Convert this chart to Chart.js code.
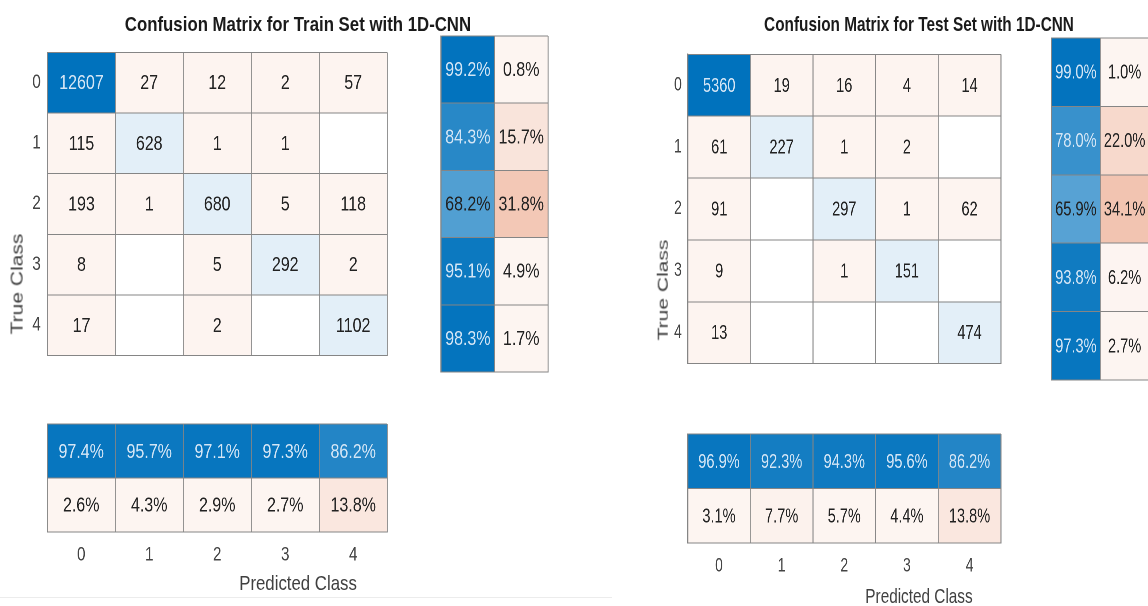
<!DOCTYPE html>
<html>
<head>
<meta charset="utf-8">
<title>Confusion matrices - 1D-CNN</title>
<script src="https://cdn.jsdelivr.net/npm/chart.js@4.4.1/dist/chart.umd.min.js"></script>
<style>
  html, body { margin: 0; padding: 0; background: #ffffff; }
  body { width: 1148px; height: 606px; overflow: hidden; position: relative; }
  .stage { position: absolute; left: 0; top: 0; height: 606px; transform-origin: 0 0; }
  .blk { position: absolute; }
  .blk canvas { display: block; }
  .txt {
    position: absolute; white-space: nowrap; line-height: 1;
    font-family: 'Liberation Sans', Arial, sans-serif;
    transform: translate(-50%, -50%);
  }
  .title { font-weight: bold; font-size: 21px; color: #1a1a1a; }
  .axlab { font-size: 21px; color: #404040; }
  .vert { transform: translate(-50%, -50%) rotate(-90deg); }
  .shelf { position: absolute; left: 0; top: 597px; width: 612px; height: 1px; background: #ececec; }
</style>
</head>
<body>
<div class="shelf"></div>
<script>
// ---- class labels -------------------------------------------------------
const classLabels = ['0', '1', '2', '3', '4'];

// ---- training set -------------------------------------------------------
const trainCounts = [
  [12607, 27, 12, 2, 57],
  [115, 628, 1, 1, 0],
  [193, 1, 680, 5, 118],
  [8, 0, 5, 292, 2],
  [17, 0, 2, 0, 1102]
];
const trainRecall    = [99.2, 84.3, 68.2, 95.1, 98.3];
const trainMissRate  = [0.8, 15.7, 31.8, 4.9, 1.7];
const trainPrecision = [97.4, 95.7, 97.1, 97.3, 86.2];
const trainFalseDisc = [2.6, 4.3, 2.9, 2.7, 13.8];

// ---- test set -----------------------------------------------------------
const testCounts = [
  [5360, 19, 16, 4, 14],
  [61, 227, 1, 2, 0],
  [91, 0, 297, 1, 62],
  [9, 0, 1, 151, 0],
  [13, 0, 0, 0, 474]
];
const testRecall    = [99.0, 78.0, 65.9, 93.8, 97.3];
const testMissRate  = [1.0, 22.0, 34.1, 6.2, 2.7];
const testPrecision = [96.9, 92.3, 94.3, 95.6, 86.2];
const testFalseDisc = [3.1, 7.7, 5.7, 4.4, 13.8];

// ---- styling --------------------------------------------------------------
const BLUE = [0, 114, 189];
const ORANGE = [217, 83, 25];
const GRID = '#858585';
const INK_DARK = '#222222';
const INK_LIGHT = '#d3e5f5';
const FONT = "'Liberation Sans', Arial, sans-serif";

function mix(base, a) {
  const c = base.map(v => Math.round(255 - (255 - v) * a));
  return 'rgb(' + c.join(',') + ')';
}
const pct = v => v.toFixed(1) + '%';

// Count matrix: diagonal in blue scaled by count, off-diagonal in pale orange.
function countFill(counts) {
  const max = Math.max(...counts.flat());
  return counts.map((row, r) => row.map((v, c) => {
    if (v === 0) return '#ffffff';
    if (r === c) return mix(BLUE, Math.max(v / max, 0.11));
    return mix(ORANGE, 0.065);
  }));
}
function countInk(counts) {
  const max = Math.max(...counts.flat());
  return counts.map((row, r) => row.map((v, c) => (r === c && v / max >= 0.75) ? INK_LIGHT : INK_DARK));
}
function countText(counts) {
  return counts.map(row => row.map(v => v === 0 ? '' : String(v)));
}
const goodFill = v => mix(BLUE, v / 100);
const badFill = v => mix(ORANGE, Math.max(v / 100, 0.06));
const goodInk = v => v >= 75 ? INK_LIGHT : INK_DARK;

// Draws each cell's text at the centre of its bar element.
const cellTextPlugin = {
  id: 'cellText',
  afterDatasetsDraw(chart) {
    const ctx = chart.ctx;
    chart.data.datasets.forEach((ds, di) => {
      const meta = chart.getDatasetMeta(di);
      meta.data.forEach((bar, i) => {
        const t = ds.cellText[i];
        if (!t) return;
        const p = bar.getCenterPoint();
        ctx.save();
        ctx.font = '20px ' + FONT;
        ctx.fillStyle = ds.cellInk[i];
        ctx.textAlign = 'center';
        ctx.textBaseline = 'middle';
        ctx.fillText(t, p.x, p.y + 1);
        ctx.restore();
      });
    });
  }
};

// One heat-map block drawn as floating bars.
// mode: 'rows' = class ticks on the left, 'cols' = class ticks below, 'plain' = no ticks.
function heatBlock(stage, sx, area, mode, text, fill, ink) {
  const nRows = text.length, nCols = text[0].length;
  const pad = 3;
  const leftW = mode === 'rows' ? 46 : 0;
  const bottomH = mode === 'cols' ? 44 : 0;
  const x0 = area[0] / sx, x1 = area[2] / sx;
  const y0 = area[1], y1 = area[3];
  const W = Math.round((x1 - x0) + (leftW || pad) + pad);
  const H = Math.round((y1 - y0) + pad + (bottomH || pad));

  const holder = document.createElement('div');
  holder.className = 'blk';
  holder.style.left = (x0 - (leftW || pad)) + 'px';
  holder.style.top = (y0 - pad) + 'px';
  const cv = document.createElement('canvas');
  cv.width = W; cv.height = H;
  cv.style.width = W + 'px'; cv.style.height = H + 'px';
  holder.appendChild(cv);
  stage.appendChild(holder);

  const barCommon = {
    barPercentage: 1, categoryPercentage: 1, grouped: false,
    borderWidth: 0, borderSkipped: false
  };
  const tickFont = { family: FONT, size: 19 };
  const vLine = 1 / sx;   // vertical rules keep ~1px after horizontal squeeze

  let datasets, scales, indexAxis;
  if (mode === 'cols') {
    indexAxis = 'x';
    datasets = text.map((row, r) => Object.assign({
      data: row.map(() => [r, r + 1]),
      backgroundColor: fill[r],
      cellText: row,
      cellInk: ink[r]
    }, barCommon));
    scales = {
      x: {
        type: 'category', labels: classLabels.slice(0, nCols), offset: true,
        grid: { offset: true, color: GRID, lineWidth: vLine, drawTicks: false, z: 1 },
        border: { color: GRID, width: 1, z: 1 },
        ticks: { font: tickFont, color: '#444444', padding: 12 },
        afterFit(s) { s.height = bottomH; }
      },
      y: {
        type: 'linear', min: 0, max: nRows, reverse: true,
        ticks: { display: false, stepSize: 1 },
        grid: { color: GRID, lineWidth: 1, drawTicks: false, z: 1 },
        border: { color: GRID, width: vLine, z: 1 },
        afterFit(s) { s.width = 0; }
      }
    };
  } else {
    indexAxis = 'y';
    datasets = text[0].map((_, c) => Object.assign({
      data: text.map(() => [c, c + 1]),
      backgroundColor: fill.map(row => row[c]),
      cellText: text.map(row => row[c]),
      cellInk: ink.map(row => row[c])
    }, barCommon));
    scales = {
      y: {
        type: 'category', labels: classLabels.slice(0, nRows), offset: true,
        grid: { offset: true, color: GRID, lineWidth: 1, drawTicks: false, z: 1 },
        border: { color: GRID, width: vLine, z: 1 },
        ticks: { display: mode === 'rows', font: tickFont, color: '#444444', padding: 8 },
        afterFit(s) { s.width = leftW; }
      },
      x: {
        type: 'linear', min: 0, max: nCols,
        ticks: { display: false, stepSize: 1 },
        grid: { color: GRID, lineWidth: vLine, drawTicks: false, z: 1 },
        border: { color: GRID, width: 1, z: 1 },
        afterFit(s) { s.height = 0; }
      }
    };
  }

  return new Chart(cv, {
    type: 'bar',
    data: { datasets },
    options: {
      indexAxis,
      responsive: false,
      animation: false,
      devicePixelRatio: 2,
      layout: { padding: { left: leftW ? 0 : pad, top: pad, right: pad, bottom: bottomH ? 0 : pad } },
      plugins: { legend: { display: false }, tooltip: { enabled: false } },
      scales
    },
    plugins: [cellTextPlugin]
  });
}

function addText(stage, sx, cls, str, cx, cy) {
  const d = document.createElement('div');
  d.className = 'txt ' + cls;
  d.textContent = str;
  d.style.left = (cx / sx) + 'px';
  d.style.top = cy + 'px';
  stage.appendChild(d);
}

// ---- panel layout (page pixels) ----------------------------------------
const panelLayouts = [
  {
    sx: 0.8,
    title: 'Confusion Matrix for Train Set with 1D-CNN',
    counts: trainCounts, recall: trainRecall, miss: trainMissRate,
    precision: trainPrecision, falseDisc: trainFalseDisc,
    main: [47, 36, 387, 372], rowSum: [441, 36, 548, 372], colSum: [47, 424, 387, 532],
    titleAt: [298, 23], xLabelAt: [298, 582], yLabelAt: [17, 284]
  },
  {
    sx: 0.73,
    title: 'Confusion Matrix for Test Set with 1D-CNN',
    counts: testCounts, recall: testRecall, miss: testMissRate,
    precision: testPrecision, falseDisc: testFalseDisc,
    main: [688, 38, 1001, 380], rowSum: [1051, 38, 1149, 380], colSum: [688, 434, 1001, 543],
    titleAt: [919, 23], xLabelAt: [919, 595], yLabelAt: [662, 290]
  }
];

panelLayouts.forEach(p => {
  const stage = document.createElement('div');
  stage.className = 'stage';
  stage.style.width = Math.ceil(1148 / p.sx) + 'px';
  stage.style.transform = 'scaleX(' + p.sx + ')';
  document.body.appendChild(stage);

  heatBlock(stage, p.sx, p.main, 'rows',
    countText(p.counts), countFill(p.counts), countInk(p.counts));

  heatBlock(stage, p.sx, p.rowSum, 'plain',
    p.recall.map((v, i) => [pct(v), pct(p.miss[i])]),
    p.recall.map((v, i) => [goodFill(v), badFill(p.miss[i])]),
    p.recall.map(v => [goodInk(v), INK_DARK]));

  heatBlock(stage, p.sx, p.colSum, 'cols',
    [p.precision.map(pct), p.falseDisc.map(pct)],
    [p.precision.map(goodFill), p.falseDisc.map(badFill)],
    [p.precision.map(goodInk), p.falseDisc.map(() => INK_DARK)]);

  addText(stage, p.sx, 'title', p.title, p.titleAt[0], p.titleAt[1]);
  addText(stage, p.sx, 'axlab', 'Predicted Class', p.xLabelAt[0], p.xLabelAt[1]);
  addText(stage, p.sx, 'axlab vert', 'True Class', p.yLabelAt[0], p.yLabelAt[1]);
});
</script>
</body>
</html>
